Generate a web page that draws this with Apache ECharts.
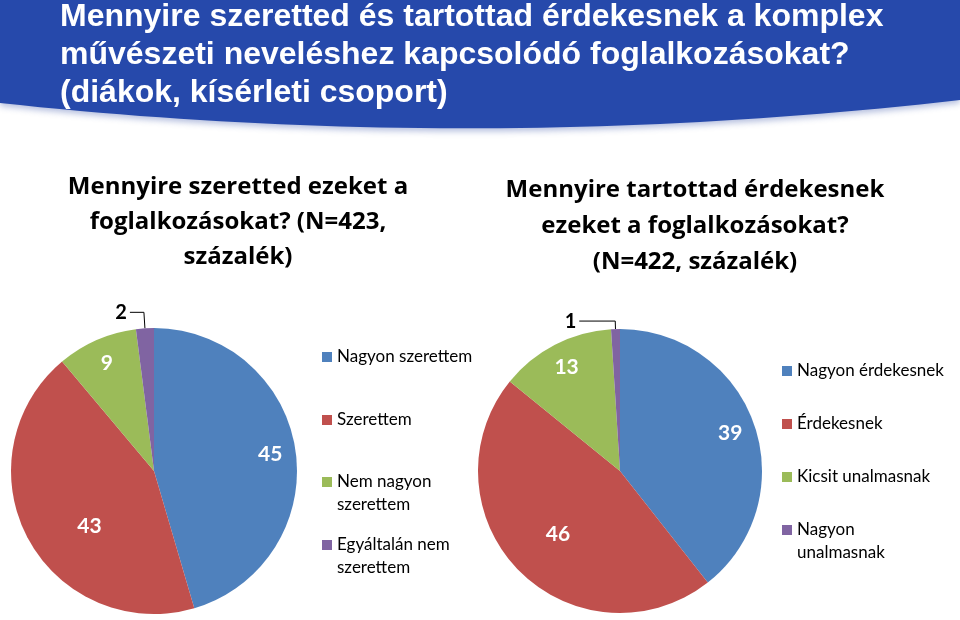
<!DOCTYPE html>
<html>
<head>
<meta charset="utf-8">
<script src="https://cdn.jsdelivr.net/npm/echarts@6/dist/echarts.min.js"></script>
<style>html,body{margin:0;padding:0;background:#fff}#c{width:960px;height:620px}</style>
</head>
<body>
<div id="c"></div>
<script>
// ---- data ----
const mainTitle = 'Mennyire szeretted és tartottad érdekesnek a komplex\nművészeti neveléshez kapcsolódó foglalkozásokat?\n(diákok, kísérleti csoport)';
const pie1Title = 'Mennyire szeretted ezeket a\nfoglalkozásokat? (N=423,\nszázalék)';
const pie2Title = 'Mennyire tartottad érdekesnek\nezeket a foglalkozásokat?\n(N=422, százalék)';
const pie1Names = ['Nagyon szerettem', 'Szerettem', 'Nem nagyon szerettem', 'Egyáltalán nem szerettem'];
const pie1Legend = ['Nagyon szerettem', 'Szerettem', 'Nem nagyon\nszerettem', 'Egyáltalán nem\nszerettem'];
const pie1Values = [45, 43, 9, 2];
const pie2Names = ['Nagyon érdekesnek', 'Érdekesnek', 'Kicsit unalmasnak', 'Nagyon unalmasnak'];
const pie2Legend = ['Nagyon érdekesnek', 'Érdekesnek', 'Kicsit unalmasnak', 'Nagyon\nunalmasnak'];
const pie2Values = [39, 46, 13, 1];
const colors = ['#4F81BD', '#C0504D', '#9BBB59', '#8064A2'];

// ---- layout / style ----
const FONT = 'Lato, "Open Sans", sans-serif';
const SUBFONT = '"Open Sans", Lato, sans-serif';
const pies = [
  {names: pie1Names, legend: pie1Legend, values: pie1Values, center: [154, 471], r: 143,
   legendLeft: 322, legendY: [357, 420, 482, 545], shift: {1: [39, 0]}, line: [16, 14]},
  {names: pie2Names, legend: pie2Legend, values: pie2Values, center: [620, 471], r: 142,
   legendLeft: 782, legendY: [371, 424, 477, 530], shift: {1: [21, -19]}, line: [8, 36]}
];

// banner shape (decoration): curved bottom edge
const bannerPts = [[0, 0], [960, 0]];
for (let k = 0; k <= 48; k++) {
  const t = k / 48;
  const x = (1 - t) * (1 - t) * 960 + 2 * t * (1 - t) * 480 + t * t * 0;
  const y = (1 - t) * (1 - t) * 100 + 2 * t * (1 - t) * 155 + t * t * 103;
  bannerPts.push([x, y]);
}

const series = [];
const legends = [];
const LH = 23;
pies.forEach((p, pi) => {
  series.push({
    type: 'pie', name: 'pie' + pi, center: p.center, radius: [0, p.r],
    startAngle: 90, clockwise: true, silent: true, animation: false,
    label: {show: false}, labelLine: {show: false},
    itemStyle: {borderWidth: 0},
    data: p.names.map((n, i) => ({name: n, value: p.values[i], itemStyle: {color: colors[i]}}))
  });
  series.push({
    type: 'pie', name: 'lab' + pi, center: p.center, radius: [p.r * 0.6, p.r],
    startAngle: 90, clockwise: true, silent: true, animation: false,
    avoidLabelOverlap: false,
    itemStyle: {color: 'rgba(0,0,0,0)', borderWidth: 0},
    label: {show: true, position: 'inside', formatter: '{c}', color: '#fff',
            fontFamily: FONT, fontWeight: 'bold', fontSize: 21},
    labelLine: {show: false},
    data: p.names.map((n, i) => {
      const d = {name: n + ' ', value: p.values[i]};
      if (p.values[i] < 5) {
        d.label = {position: 'outside', color: '#000', fontSize: 20, distanceToLabelLine: 3};
        d.labelLine = {show: true, length: p.line[0], length2: p.line[1], lineStyle: {color: '#000', width: 1}};
      } else if (p.shift[i]) {
        d.label = {offset: p.shift[i]};
      }
      return d;
    })
  });
  p.names.forEach((n, i) => {
    const multi = p.legend[i].indexOf('\n') >= 0;
    // a leading blank line keeps the marker level with the first text line
    const txt = multi ? '\u00a0\n' + p.legend[i] : p.legend[i];
    legends.push({
      data: [n], orient: 'vertical', left: p.legendLeft,
      top: p.legendY[i] - (multi ? LH * 1.5 : LH / 2),
      padding: 0, itemWidth: 10, itemHeight: 10, itemGap: 0, icon: 'rect',
      selectedMode: false,
      formatter: () => txt,
      textStyle: {fontFamily: FONT, fontSize: 17, color: '#000', lineHeight: LH}
    });
  });
});

const chart = echarts.init(document.getElementById('c'), null, {renderer: 'canvas'});
chart.setOption({
  animation: false,
  backgroundColor: '#fff',
  graphic: [
    {type: 'polygon', z: -10, shape: {points: bannerPts},
     style: {fill: '#2649AB', shadowColor: 'rgba(40,70,160,0.35)', shadowBlur: 6, shadowOffsetY: 3}},
    {type: 'text', z: 5, x: 60, y: -2,
     style: {text: mainTitle, fill: '#fff', font: 'bold 32px "Liberation Sans", Arial, sans-serif',
             lineHeight: 38, verticalAlign: 'top'}}
  ],
  title: [
    {text: pie1Title, left: 238, top: 170, textAlign: 'center', padding: 0,
     textStyle: {fontFamily: SUBFONT, fontWeight: 'bold', fontSize: 24, lineHeight: 35, color: '#000'}},
    {text: pie2Title, left: 695, top: 172, textAlign: 'center', padding: 0,
     textStyle: {fontFamily: SUBFONT, fontWeight: 'bold', fontSize: 24, lineHeight: 36, color: '#000'}}
  ],
  legend: legends,
  series: series
});
</script>
</body>
</html>
